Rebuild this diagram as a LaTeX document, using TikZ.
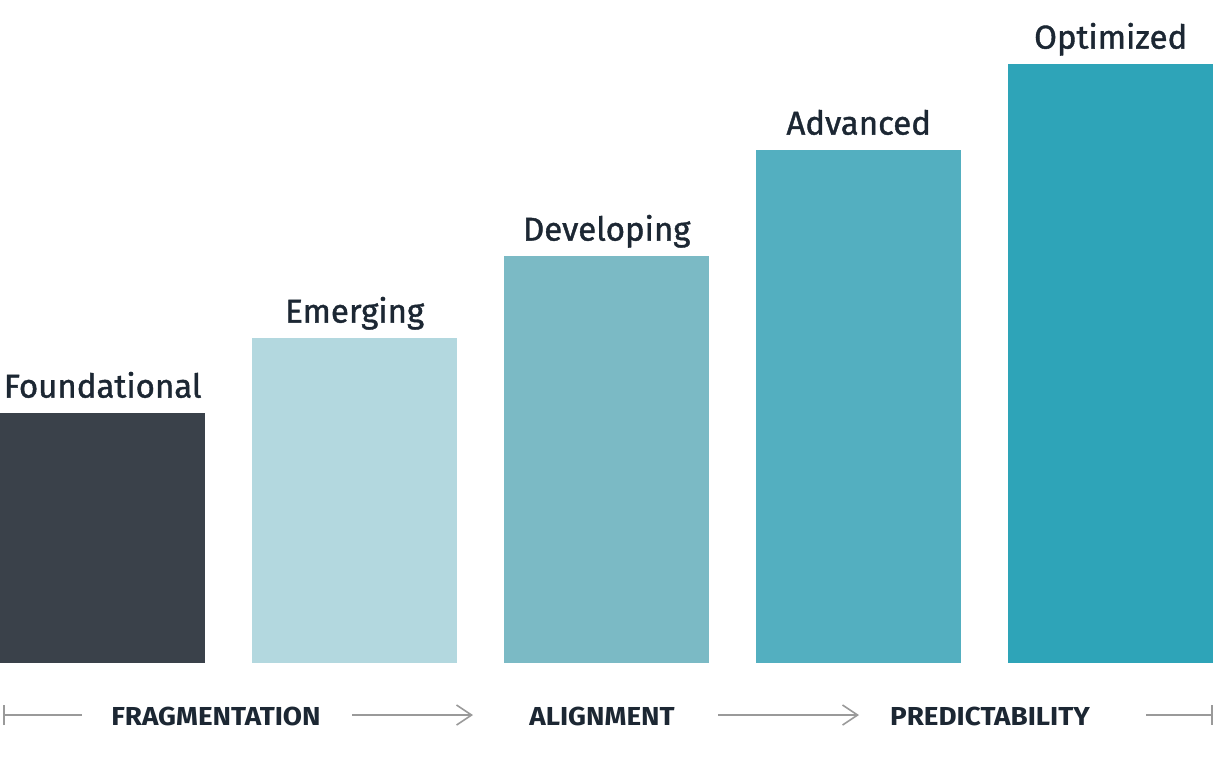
\documentclass[tikz,border=0pt]{standalone}
\usepackage{fontspec}
\setmainfont{Fira Sans}
\newfontfamily\labfont{Fira Sans}[RawFeature={embolden=1.2}]
\newfontfamily\stagefont{Fira Sans Bold}[FakeStretch=1.07]
\usetikzlibrary{arrows.meta}
\definecolor{txt}{HTML}{1C2733}
\definecolor{cA}{HTML}{3A414A}
\definecolor{cB}{HTML}{B3D8DF}
\definecolor{cC}{HTML}{7BBAC5}
\definecolor{cD}{HTML}{53AFC0}
\definecolor{cE}{HTML}{2EA4B8}
\definecolor{gr}{HTML}{9A9A9A}
\begin{document}
\begin{tikzpicture}[x=1pt,y=-1pt,
  bar/.style={draw=none,inner sep=0pt,minimum width=205pt,anchor=south west},
  lab/.style={text=txt,font=\labfont\fontsize{33}{36}\selectfont,anchor=base,inner sep=0pt},
  stage/.style={text=txt,font=\stagefont\fontsize{26}{28}\selectfont,anchor=base,inner sep=0pt},
  conn/.style={draw=gr,line width=1.6pt},
  chev/.style={conn,-{Straight Barb[length=15pt,width=20pt,line width=1.6pt]}},
  tick/.style={conn,{Bar[width=20pt,line width=1.6pt]}-}
]
\useasboundingbox (0,0) rectangle (1218,766);
\node[bar,fill=cA,minimum height=250pt] (b1) at (0,663) {};
\node[bar,fill=cB,minimum height=325pt] (b2) at (252,663) {};
\node[bar,fill=cC,minimum height=407pt] (b3) at (504,663) {};
\node[bar,fill=cD,minimum height=513pt] (b4) at (756,663) {};
\node[bar,fill=cE,minimum height=599pt] (b5) at (1008,663) {};
\node[lab] (l1) at ([yshift=15pt]b1.north) {Foundational};
\node[lab] (l2) at ([yshift=15pt]b2.north) {Emerging};
\node[lab] (l3) at ([yshift=15pt]b3.north) {Developing};
\node[lab] (l4) at ([yshift=15pt]b4.north) {Advanced};
\node[lab] (l5) at ([yshift=15pt]b5.north) {Optimized};
\node[stage] (s1) at (216,725) {FRAGMENTATION};
\node[stage] (s2) at (602,725) {ALIGNMENT};
\node[stage] (s3) at (990,725) {PREDICTABILITY};
\coordinate (p0) at (3,715);
\coordinate (p1) at (82,715);
\coordinate (p2) at (352,715);
\coordinate (p3) at (473,715);
\coordinate (p4) at (718,715);
\coordinate (p5) at (859,715);
\coordinate (p6) at (1146,715);
\coordinate (p7) at (1213,715);
\draw[tick] (p0) -- (p1);
\draw[chev] (p2) -- (p3);
\draw[chev] (p4) -- (p5);
\draw[conn,-{Bar[width=20pt,line width=1.6pt]}] (p6) -- (p7);
\end{tikzpicture}
\end{document}
